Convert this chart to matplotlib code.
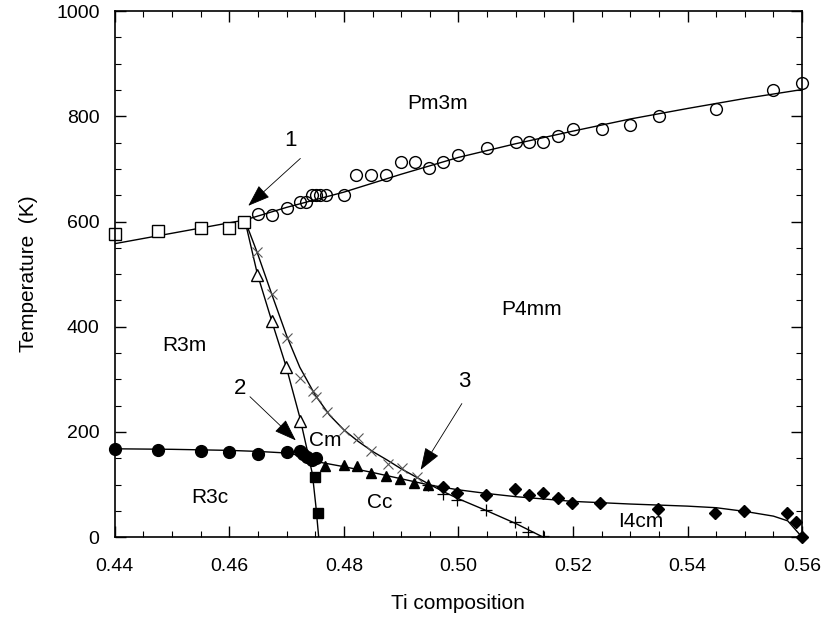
import matplotlib
matplotlib.use('Agg')
import matplotlib.pyplot as plt
from matplotlib.ticker import MultipleLocator

plt.rcParams['font.family'] = ['Liberation Sans', 'DejaVu Sans']

# ---- data ----
# open squares (R3m -> Pm3m)
sq_x = [0.44, 0.4475, 0.455, 0.46, 0.4625]
sq_T = [576, 582, 587, 587, 600]

# open circles (P4mm -> Pm3m)
circ_x = [0.465, 0.4675, 0.47, 0.4723, 0.4734, 0.4745, 0.4752, 0.4758, 0.4769,
          0.48, 0.4822, 0.4848, 0.4873, 0.49, 0.4924, 0.4949, 0.4973, 0.50,
          0.505, 0.51, 0.5123, 0.5148, 0.5173, 0.52, 0.525, 0.53, 0.535,
          0.545, 0.555, 0.56]
circ_T = [614, 613, 626, 637, 637, 650, 650, 650, 650,
          650, 688, 688, 688, 714, 714, 701, 714, 726,
          739, 752, 752, 752, 763, 776, 776, 784, 800,
          814, 851, 864]

# open triangles (R3m -> Cm)
otri_x = [0.4649, 0.4674, 0.4699, 0.4723]
otri_T = [498, 411, 323, 221]

# crosses (Cm -> P4mm), plus signs (Cc -> P4mm)
x_x = [0.4649, 0.4674, 0.47, 0.4723, 0.4746, 0.4752, 0.477, 0.48, 0.4825,
       0.4848, 0.4877, 0.4901, 0.4927]
x_T = [542, 463, 378, 302, 277, 267, 238, 203, 188, 164, 140, 131, 115]
p_x = [0.4947, 0.4973, 0.4998, 0.5048, 0.5099, 0.5122, 0.5148]
p_T = [99, 83, 70, 51, 28, 10, 2]

# filled circles (R3c -> R3m / Cm)
fc_x = [0.44, 0.4475, 0.455, 0.46, 0.465, 0.47, 0.4723, 0.4729, 0.4735, 0.4744, 0.4752]
fc_T = [167, 166, 164, 162, 159, 162, 163, 159, 153, 146, 150]

# filled squares (R3c -> Cc)
fs_x = [0.4749, 0.4755]
fs_T = [115, 45]

# filled triangles (Cc -> Cm / P4mm)
ftri_x = [0.4767, 0.48, 0.4823, 0.4848, 0.4873, 0.4898, 0.4922, 0.4947]
ftri_T = [135, 137, 135, 122, 116, 110, 103, 99]

# filled diamonds (I4cm -> P4mm)
dia_x = [0.4973, 0.4998, 0.5048, 0.5099, 0.5123, 0.5148, 0.5173, 0.5198,
         0.5248, 0.5348, 0.5448, 0.5498, 0.5573, 0.5589, 0.56]
dia_T = [95, 84, 80, 91, 80, 84, 75, 65, 65, 53, 45, 50, 45, 29, 0]

# phase boundary lines (as drawn in the figure)
top_a_x = [0.44, 0.4627]
top_a_T = [558, 603]
top_b_x = [0.4627, 0.47, 0.48, 0.49, 0.50, 0.51, 0.52, 0.53, 0.54, 0.55, 0.56]
top_b_T = [603, 627, 656, 690, 722, 748, 772, 795, 815, 834, 851]
tri_line_x = [0.4627, 0.4649, 0.4674, 0.4699, 0.4723, 0.4735, 0.4745, 0.4751, 0.4756]
tri_line_T = [603, 500, 411, 325, 228, 170, 120, 60, 0]
x_line_x = [0.4627, 0.4649, 0.4674, 0.47, 0.4723, 0.475, 0.4775, 0.48, 0.4825,
            0.485, 0.4875, 0.49, 0.4925, 0.495, 0.4975, 0.50, 0.505, 0.51, 0.5148]
x_line_T = [603, 540, 462, 383, 323, 270, 232, 204, 182,
            163, 147, 130, 115, 100, 86, 73, 50, 26, 0]
low_line_x = [0.44, 0.45, 0.46, 0.465, 0.47, 0.4735, 0.476, 0.48, 0.485, 0.49,
              0.495, 0.50, 0.505, 0.51, 0.52, 0.53, 0.54, 0.545, 0.55, 0.555,
              0.5575, 0.56]
low_line_T = [168, 167, 165, 163, 160, 153, 142, 134, 123, 111,
              99, 90, 83, 77, 68, 63, 59, 56, 49, 40, 31, 0]

phase_labels = ['Pm3m', 'P4mm', 'R3m', 'Cm', 'R3c', 'Cc', 'I4cm']
phase_x = [0.4964, 0.5128, 0.4522, 0.4767, 0.4566, 0.4863, 0.5319]
phase_T = [825, 432, 365, 184, 76, 65, 30]

arrow_labels = ['1', '2', '3']
arrow_text_x = [0.4706, 0.4618, 0.5011]
arrow_text_T = [755, 283, 295]
arrow_tail_x = [0.4724, 0.4636, 0.5006]
arrow_tail_T = [720, 267, 254]
arrow_tip_x = [0.4633, 0.4716, 0.4934]
arrow_tip_T = [630, 184, 128]

fig = plt.figure(figsize=(8.26, 6.21), dpi=100)
ax = fig.add_axes([0.139, 0.135, 0.832, 0.847])

lw = 1.0
ax.plot(top_a_x, top_a_T, color='black', lw=lw)
ax.plot(top_b_x, top_b_T, color='black', lw=lw)
ax.plot(tri_line_x, tri_line_T, color='black', lw=lw)
ax.plot(x_line_x, x_line_T, color='black', lw=lw)
ax.plot(low_line_x, low_line_T, color='black', lw=lw)

ax.plot(sq_x, sq_T, 's', ms=8, mfc='white', mec='black', mew=1.0, ls='none', clip_on=False)
ax.plot(circ_x, circ_T, 'o', ms=8.5, mfc='none', mec='black', mew=1.0, ls='none', clip_on=False)
ax.plot(otri_x, otri_T, '^', ms=8, mfc='white', mec='black', mew=1.0, ls='none')
ax.plot(x_x, x_T, 'x', ms=7, color='#555555', mew=0.8, ls='none')
ax.plot(p_x, p_T, '+', ms=8, color='black', mew=0.9, ls='none')
ax.plot(fc_x, fc_T, 'o', ms=8.5, color='black', ls='none', clip_on=False)
ax.plot(fs_x, fs_T, 's', ms=7, color='black', ls='none')
ax.plot(ftri_x, ftri_T, '^', ms=7.5, color='black', ls='none')
ax.plot(dia_x, dia_T, 'D', ms=6.5, color='black', ls='none', clip_on=False)

for lab, xx, tt in zip(phase_labels, phase_x, phase_T):
    ax.text(xx, tt, lab, fontsize=15, ha='center', va='center')

for lab, tx, tt, ax0, at0, ax1, at1 in zip(arrow_labels, arrow_text_x, arrow_text_T,
                                         arrow_tail_x, arrow_tail_T,
                                         arrow_tip_x, arrow_tip_T):
    ax.text(tx, tt, lab, fontsize=16, ha='center', va='center')
    ax.annotate('', xy=(ax1, at1), xytext=(ax0, at0),
                arrowprops=dict(arrowstyle='-|>,head_length=1.4,head_width=0.5',
                                color='black', lw=0.6, shrinkA=0, shrinkB=0))

ax.set_xlim(0.44, 0.56)
ax.set_ylim(0, 1000)
ax.xaxis.set_major_locator(MultipleLocator(0.02))
ax.xaxis.set_minor_locator(MultipleLocator(0.005))
ax.yaxis.set_major_locator(MultipleLocator(200))
ax.yaxis.set_minor_locator(MultipleLocator(50))
ax.set_xticklabels(['%.2f' % v for v in ax.get_xticks()])
ax.tick_params(which='both', direction='in', top=True, right=True, labelsize=14)
ax.tick_params(which='major', length=8, width=1)
ax.tick_params(which='minor', length=4, width=0.8)
ax.tick_params(axis='x', pad=15)
ax.tick_params(axis='y', pad=11)
for s in ax.spines.values():
    s.set_linewidth(1.2)

ax.set_xlabel('Ti composition', fontsize=15, labelpad=14)
ax.set_ylabel('Temperature  (K)', fontsize=15, labelpad=13)

fig.savefig('out.png', dpi=100)
